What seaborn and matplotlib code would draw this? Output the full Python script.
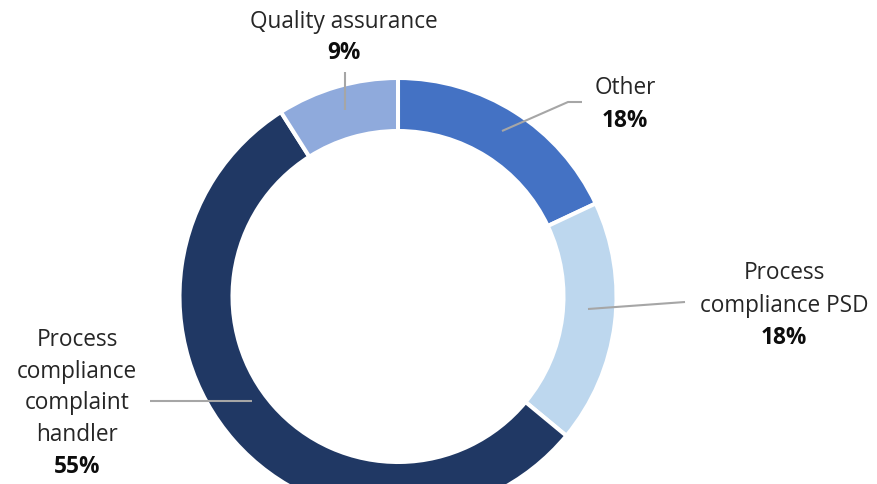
import matplotlib
matplotlib.use("Agg")
import matplotlib.pyplot as plt
import seaborn as sns

# ---- data ----
categories = ["Other", "Process compliance PSD",
              "Process compliance complaint handler", "Quality assurance"]
values = [18, 18, 55, 9]
pct_labels = ["18%", "18%", "55%", "9%"]
label_lines = [["Other"],
               ["Process", "compliance PSD"],
               ["Process", "compliance", "complaint", "handler"],
               ["Quality assurance"]]
colors = ["#4472C4", "#BDD7EE", "#203864", "#8FAADC"]

sns.set_theme(style="white")
plt.rcParams['font.family'] = ['Open Sans', 'DejaVu Sans']

W, H = 877, 485
fig = plt.figure(figsize=(W / 100, H / 100), dpi=100)
ax = fig.add_axes([0, 0, 1, 1])

def py(y):
    return H - y

cx, cy = 398, 297.5
ax.pie(values, colors=colors, startangle=90, counterclock=False,
       radius=218.5, center=(cx, py(cy)),
       wedgeprops=dict(width=53, edgecolor="white", linewidth=2.9))
ax.set_xlim(0, W)
ax.set_ylim(0, H)
ax.set_aspect("equal")
ax.axis("off")

# layout: label blocks (x center, list of y for lines, y for pct) and leader lines
layout = {
    "Other": dict(x=625, ys=[88], yp=121,
                  line=[(582, 103), (568, 103), (502, 132)]),
    "Process compliance PSD": dict(x=784, ys=[273, 306], yp=338,
                                   line=[(685, 303), (588, 310)]),
    "Process compliance complaint handler": dict(x=77, ys=[340, 372, 403, 435], yp=467,
                                                 line=[(150, 402), (252, 402)]),
    "Quality assurance": dict(x=344, ys=[22], yp=53,
                              line=[(345, 73), (345, 111)]),
}

fs = 16.3
for cat, lines, pct in zip(categories, label_lines, pct_labels):
    L = layout[cat]
    for t, y in zip(lines, L["ys"]):
        ax.text(L["x"], py(y), t, ha="center", va="center", fontsize=fs,
                color="#262626")
    ax.text(L["x"], py(L["yp"]), pct, ha="center", va="center", fontsize=fs,
            color="#0d0d0d", fontweight="bold")
    xs = [p[0] for p in L["line"]]
    ys = [py(p[1]) for p in L["line"]]
    ax.plot(xs, ys, color="#A6A6A6", linewidth=1.5, solid_capstyle="butt")

fig.savefig("out.png", dpi=100, facecolor="white")
